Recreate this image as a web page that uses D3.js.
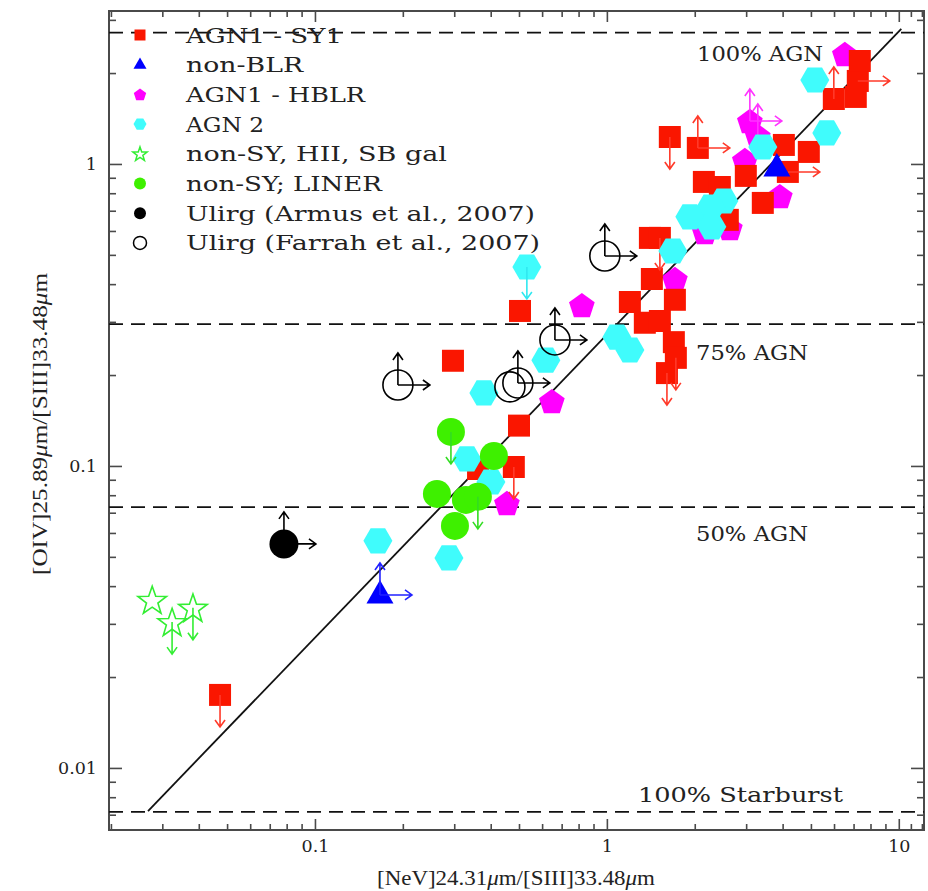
<!DOCTYPE html>
<html>
<head>
<meta charset="utf-8">
<script src="https://cdn.jsdelivr.net/npm/d3@7"></script>
<style>
  html, body { margin: 0; padding: 0; background: #fff; }
  svg { display: block; }
</style>
</head>
<body>
<svg id="chart" width="928" height="891"></svg>
<script>
// ---- Data: [NeV]/[SIII] (x) versus [OIV]/[SIII] (y); limit flags: d = upper limit in y, u = lower limit in y, r = lower limit in x
const agn1Sy1 = [
  [0.0473, 0.01745, "d"], [0.297, 0.223, ""], [0.504, 0.326, ""], [0.500, 0.136, ""],
  [0.480, 0.0992, "d"], [0.362, 0.0977, ""], [1.643, 1.228, "d"], [2.049, 1.130, "ur"],
  [2.149, 0.872, ""], [2.438, 0.839, ""], [2.992, 0.913, ""], [3.421, 0.743, ""],
  [4.039, 1.156, ""], [4.168, 0.941, "r"], [4.918, 1.096, ""], [5.990, 1.641, "u"],
  [7.123, 1.667, ""], [7.237, 1.883, "r"], [7.352, 2.193, ""], [2.596, 0.653, ""],
  [1.404, 0.569, ""], [1.519, 0.569, "d"], [1.426, 0.416, ""], [1.199, 0.349, ""],
  [1.710, 0.355, ""], [1.349, 0.298, ""], [1.519, 0.302, ""], [1.696, 0.257, ""],
  [1.723, 0.228, "d"], [1.606, 0.203, "d"]
];
const nonBlr = [
  [3.821, 0.970, ""], [0.167, 0.0374, "ur"]
];
const agn1Hblr = [
  [6.534, 2.313, ""], [3.089, 1.388, "ur"], [3.289, 1.238, "u"], [2.969, 1.031, ""],
  [3.913, 0.783, ""], [2.166, 0.595, ""], [2.638, 0.614, ""], [1.710, 0.416, ""],
  [0.821, 0.341, ""], [0.648, 0.164, ""], [0.4545, 0.0754, ""]
];
const agn2 = [
  [5.156, 1.897, ""], [5.667, 1.267, ""], [3.421, 1.138, ""], [2.516, 0.754, ""],
  [2.271, 0.7205, ""], [1.924, 0.668, ""], [2.288, 0.619, ""], [1.683, 0.515, ""],
  [1.082, 0.267, ""], [1.199, 0.242, ""], [0.532, 0.456, "d"], [0.618, 0.224, ""],
  [0.379, 0.1745, ""], [0.3316, 0.1055, ""], [0.4006, 0.0885, ""], [0.1643, 0.0565, ""],
  [0.2877, 0.0496, ""]
];
const nonSyHii = [
  [0.0277, 0.0360, ""], [0.0324, 0.0304, "d"], [0.0382, 0.0339, "d"]
];
const nonSyLiner = [
  [0.2923, 0.1296, "d"], [0.4102, 0.1079, ""], [0.2617, 0.0808, ""], [0.3290, 0.0772, ""],
  [0.3017, 0.0633, ""], [0.3615, 0.0790, "d"]
];
const ulirgArmus = [
  [0.0783, 0.0552, "ur"]
];
const ulirgFarrah = [
  [0.1924, 0.1854, "ur"], [0.4654, 0.1827, ""], [0.4956, 0.1883, "ur"],
  [0.6638, 0.2614, "ur"], [0.984, 0.4958, "ur"]
];

// AGN fraction levels (horizontal dashed lines) and their labels
const levelValues = [2.72, 0.295, 0.0731, 0.00715];
const levelLabels = ["100% AGN", "75% AGN", "50% AGN", "100% Starburst"];

// Mixing line between the pure starburst and pure AGN ratios
const mixLineX = [0.0268, 10.2];
const mixLineY = [0.0072, 2.80];

// Axis domains and ticks
const xDomain = [0.0197, 12.2];
const yDomain = [0.00623, 3.21];
const xMajorTicks = [0.1, 1, 10];
const xMajorLabels = ["0.1", "1", "10"];
const xMinorTicks = [0.02, 0.03, 0.04, 0.05, 0.06, 0.07, 0.08, 0.09,
                     0.2, 0.3, 0.4, 0.5, 0.6, 0.7, 0.8, 0.9,
                     2, 3, 4, 5, 6, 7, 8, 9, 11, 12];
const yMajorTicks = [0.01, 0.1, 1];
const yMajorLabels = ["0.01", "0.1", "1"];
const yMinorTicks = [0.007, 0.008, 0.009,
                     0.02, 0.03, 0.04, 0.05, 0.06, 0.07, 0.08, 0.09,
                     0.2, 0.3, 0.4, 0.5, 0.6, 0.7, 0.8, 0.9, 2, 3];

const legendLabels = ["AGN1 - SY1", "non-BLR", "AGN1 - HBLR", "AGN 2",
                      "non-SY, HII, SB gal", "non-SY; LINER",
                      "Ulirg (Armus et al., 2007)", "Ulirg (Farrah et al., 2007)"];

// ---- Layout
const svg = d3.select("#chart");
const L = 109, R = 924, T = 11, B = 830;
const x = d3.scaleLog().domain(xDomain).range([L, R]);
const y = d3.scaleLog().domain(yDomain).range([B, T]);

// ---- Marker shapes (centred on 0,0; s = overall size)
function poly(pts) {
  return "M" + pts.map(p => p[0].toFixed(2) + "," + p[1].toFixed(2)).join("L") + "Z";
}
const shapes = {
  square: s => poly([[-s/2, -s/2], [s/2, -s/2], [s/2, s/2], [-s/2, s/2]]),
  hexagon: s => poly(d3.range(6).map(i => [s/2 * Math.cos(i * Math.PI / 3), s/2 * Math.sin(i * Math.PI / 3)])),
  pentagon: s => poly(d3.range(5).map(i => {
    const a = -Math.PI / 2 + i * 2 * Math.PI / 5;
    return [s/2 * Math.cos(a), s/2 * Math.sin(a) + s * 0.05];
  })),
  triangle: s => poly([[0, -s * 0.55], [s/2, s * 0.32], [-s/2, s * 0.32]]),
  star: s => poly(d3.range(10).map(i => {
    const r = i % 2 ? s * 0.2 : s / 2;
    const a = -Math.PI / 2 + i * Math.PI / 5;
    return [r * Math.cos(a), r * Math.sin(a) + s * 0.04];
  })),
  circle: s => {
    const r = s / 2;
    return `M${-r},0A${r},${r} 0 1,0 ${r},0A${r},${r} 0 1,0 ${-r},0Z`;
  }
};

const series = [
  { data: agn1Hblr,   shape: "pentagon", size: 27, fill: "#ff00ff", stroke: "none", arrow: "#ff33ff", leg: 2, legSize: 13 },
  { data: agn1Sy1,    shape: "square",   size: 22, fill: "#fa1600", stroke: "none", arrow: "#ff3a2a", leg: 0, legSize: 11 },
  { data: agn2,       shape: "hexagon",  size: 29, fill: "#40fcfc", stroke: "none", arrow: "#30e8f0", leg: 3, legSize: 13 },
  { data: nonSyLiner, shape: "circle",   size: 28, fill: "#3ef000", stroke: "none", arrow: "#33dd22", leg: 5, legSize: 12 },
  { data: nonBlr,     shape: "triangle", size: 27, fill: "#0000ff", stroke: "none", arrow: "#2222ff", leg: 1, legSize: 13 },
  { data: nonSyHii,   shape: "star",     size: 30, fill: "none",    stroke: "#33ee33", arrow: "#33ee33", leg: 4, legSize: 15 },
  { data: ulirgArmus, shape: "circle",   size: 29, fill: "#000",    stroke: "none", arrow: "#000", leg: 6, legSize: 12 },
  { data: ulirgFarrah,shape: "circle",   size: 30, fill: "none",    stroke: "#000", arrow: "#000", leg: 7, legSize: 13 }
];

// ---- Frame and ticks (mirrored on all four sides, pointing inward)
const axisColor = "#4a4a4a";
function styleAxis(g) {
  g.select(".domain").remove();
  g.selectAll(".tick line").attr("stroke", axisColor).attr("stroke-width", 1.6);
  g.selectAll(".tick text")
    .attr("font-family", "'DejaVu Serif', serif")
    .attr("font-size", 17.5)
    .attr("fill", "#222");
}
const xMajorFmt = v => xMajorLabels[xMajorTicks.indexOf(v)];
const yMajorFmt = v => yMajorLabels[yMajorTicks.indexOf(v)];

svg.append("g").attr("transform", `translate(0,${B})`)
  .call(d3.axisBottom(x).tickValues(xMajorTicks).tickSize(-11).tickSizeOuter(0).tickPadding(10).tickFormat(xMajorFmt))
  .call(styleAxis);
svg.append("g").attr("transform", `translate(0,${B})`)
  .call(d3.axisBottom(x).tickValues(xMinorTicks).tickSize(-6).tickSizeOuter(0).tickFormat(""))
  .call(styleAxis);
svg.append("g").attr("transform", `translate(0,${T})`)
  .call(d3.axisTop(x).tickValues(xMajorTicks).tickSize(-11).tickSizeOuter(0).tickFormat(""))
  .call(styleAxis);
svg.append("g").attr("transform", `translate(0,${T})`)
  .call(d3.axisTop(x).tickValues(xMinorTicks).tickSize(-6).tickSizeOuter(0).tickFormat(""))
  .call(styleAxis);
svg.append("g").attr("transform", `translate(${L},0)`)
  .call(d3.axisLeft(y).tickValues(yMajorTicks).tickSize(-13).tickSizeOuter(0).tickPadding(12).tickFormat(yMajorFmt))
  .call(styleAxis);
svg.append("g").attr("transform", `translate(${L},0)`)
  .call(d3.axisLeft(y).tickValues(yMinorTicks).tickSize(-7).tickSizeOuter(0).tickFormat(""))
  .call(styleAxis);
svg.append("g").attr("transform", `translate(${R},0)`)
  .call(d3.axisRight(y).tickValues(yMajorTicks).tickSize(-13).tickSizeOuter(0).tickFormat(""))
  .call(styleAxis);
svg.append("g").attr("transform", `translate(${R},0)`)
  .call(d3.axisRight(y).tickValues(yMinorTicks).tickSize(-7).tickSizeOuter(0).tickFormat(""))
  .call(styleAxis);

svg.append("rect")
  .attr("x", L).attr("y", T).attr("width", R - L).attr("height", B - T)
  .attr("fill", "none").attr("stroke", axisColor).attr("stroke-width", 2);

// ---- AGN-fraction levels
svg.append("g").selectAll("line").data(levelValues).join("line")
  .attr("x1", L).attr("x2", R)
  .attr("y1", d => y(d)).attr("y2", d => y(d))
  .attr("stroke", "#111").attr("stroke-width", 1.8).attr("stroke-dasharray", "14,8");

// Level labels: [text, x anchor value, y position value, width]
const levelLabelPos = [
  { t: levelLabels[0], x: 697, yv: levelValues[0], dy: 28, w: 126 },
  { t: levelLabels[1], x: 696, yv: levelValues[1], dy: 36, w: 112 },
  { t: levelLabels[2], x: 696, yv: levelValues[2], dy: 34, w: 112 },
  { t: levelLabels[3], x: 638, yv: levelValues[3], dy: -10, w: 205 }
];
svg.append("g").selectAll("text").data(levelLabelPos).join("text")
  .attr("x", d => d.x).attr("y", d => y(d.yv) + d.dy)
  .attr("font-family", "'DejaVu Serif', serif").attr("font-size", 20.5)
  .attr("fill", "#222")
  .attr("textLength", d => d.w).attr("lengthAdjust", "spacingAndGlyphs")
  .text(d => d.t);

// ---- Mixing line
svg.append("path")
  .attr("d", d3.line().x(d => x(d[0])).y(d => y(d[1]))(mixLineX.map((v, i) => [v, mixLineY[i]])))
  .attr("stroke", "#111").attr("stroke-width", 1.8).attr("fill", "none");

// ---- Limit arrows
const ARROW = 32;
function arrowPath(cx, cy, flags) {
  let p = "";
  for (const f of flags) {
    if (f === "d") {
      const ty = cy + ARROW;
      p += `M${cx},${cy}L${cx},${ty}M${cx - 5},${ty - 7}L${cx},${ty}L${cx + 5},${ty - 7}`;
    } else if (f === "u") {
      const ty = cy - ARROW;
      p += `M${cx},${cy}L${cx},${ty}M${cx - 5},${ty + 7}L${cx},${ty}L${cx + 5},${ty + 7}`;
    } else if (f === "r") {
      const tx = cx + ARROW;
      p += `M${cx},${cy}L${tx},${cy}M${tx - 7},${cy - 5}L${tx},${cy}L${tx - 7},${cy + 5}`;
    }
  }
  return p;
}

// ---- Points
series.forEach(s => {
  const g = svg.append("g");
  g.selectAll("path.mark").data(s.data).join("path")
    .attr("class", "mark")
    .attr("transform", d => `translate(${x(d[0])},${y(d[1])})`)
    .attr("d", shapes[s.shape](s.size))
    .attr("fill", s.fill)
    .attr("stroke", s.stroke)
    .attr("stroke-width", s.stroke === "none" ? 0 : 1.6);
  g.selectAll("path.lim").data(s.data.filter(d => d[2])).join("path")
    .attr("class", "lim")
    .attr("d", d => arrowPath(x(d[0]), y(d[1]), d[2]))
    .attr("fill", "none")
    .attr("stroke", s.arrow)
    .attr("stroke-width", 1.6);
});

// ---- Legend
const legendWidths = [156, 117, 179, 78, 261, 196, 349, 354];
const legTop = 35, legStep = 29.7;
const leg = svg.append("g");
series.forEach(s => {
  const cy = legTop + s.leg * legStep;
  leg.append("path")
    .attr("transform", `translate(140,${cy})`)
    .attr("d", shapes[s.shape](s.legSize))
    .attr("fill", s.fill)
    .attr("stroke", s.stroke)
    .attr("stroke-width", s.stroke === "none" ? 0 : 1.5);
  leg.append("text")
    .attr("x", 186).attr("y", cy + 7.5)
    .attr("font-family", "'DejaVu Serif', serif").attr("font-size", 20.5)
    .attr("fill", "#222")
    .attr("textLength", legendWidths[s.leg]).attr("lengthAdjust", "spacingAndGlyphs")
    .text(legendLabels[s.leg]);
});

// ---- Axis titles
const xTitle = svg.append("text")
  .attr("x", 377).attr("y", 885)
  .attr("font-family", "'Liberation Serif', serif").attr("font-size", 21)
  .attr("fill", "#222")
  .attr("textLength", 278).attr("lengthAdjust", "spacingAndGlyphs");
xTitle.append("tspan").text("[NeV]24.31");
xTitle.append("tspan").attr("font-style", "italic").text("μ");
xTitle.append("tspan").text("m/[SIII]33.48");
xTitle.append("tspan").attr("font-style", "italic").text("μ");
xTitle.append("tspan").text("m");

const yTitle = svg.append("text")
  .attr("transform", "translate(47,575) rotate(-90)")
  .attr("x", 0).attr("y", 0)
  .attr("font-family", "'Liberation Serif', serif").attr("font-size", 21)
  .attr("fill", "#222")
  .attr("textLength", 302).attr("lengthAdjust", "spacingAndGlyphs");
yTitle.append("tspan").text("[OIV]25.89");
yTitle.append("tspan").attr("font-style", "italic").text("μ");
yTitle.append("tspan").text("m/[SIII]33.48");
yTitle.append("tspan").attr("font-style", "italic").text("μ");
yTitle.append("tspan").text("m");
</script>
</body>
</html>
